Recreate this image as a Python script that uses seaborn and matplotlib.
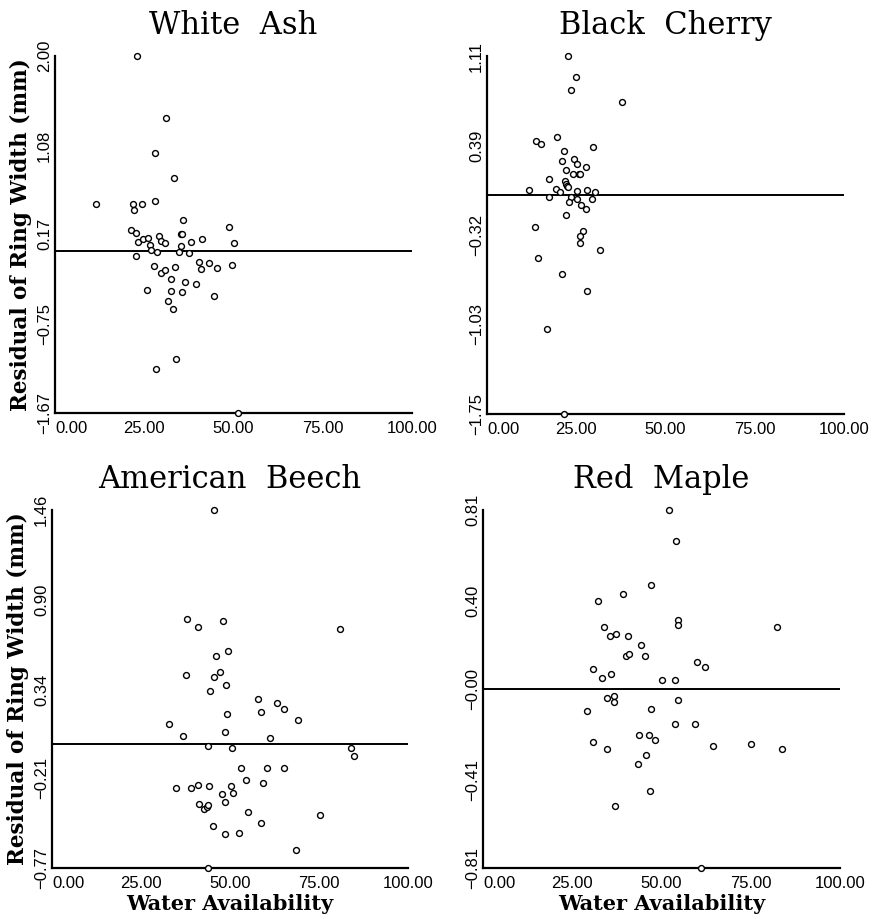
import numpy as np
import pandas as pd
import matplotlib
matplotlib.use("Agg")
import matplotlib.pyplot as plt
import seaborn as sns

# species panels (original titles have wide word gaps)
titles = ['White  Ash', 'Black  Cherry', 'American  Beech', 'Red  Maple']

# White Ash
wa_x = [23.0, 31.0, 28.1, 33.3, 11.5, 21.9, 24.3, 28.0, 22.2, 35.8, 21.2, 22.8, 48.8, 29.1,
        35.3, 35.5, 23.2, 24.6, 26.0, 29.7, 30.7, 38.1, 41.1, 50.1, 26.6, 35.4, 26.9, 28.5,
        34.7, 37.6, 22.8, 27.8, 33.7, 40.3, 40.9, 43.2, 45.3, 49.6, 29.8, 30.7, 32.6, 36.5,
        39.4, 25.7, 32.4, 35.7, 44.4, 31.7, 33.0, 33.9, 28.3, 51.2]
wa_y = [2.00, 1.36, 1.00, 0.75, 0.48, 0.48, 0.48, 0.51, 0.42, 0.31, 0.21, 0.18, 0.24, 0.15,
        0.17, 0.17, 0.09, 0.12, 0.13, 0.10, 0.08, 0.09, 0.12, 0.08, 0.06, 0.05, 0.01, -0.02,
        -0.02, -0.03, -0.06, -0.16, -0.17, -0.12, -0.19, -0.13, -0.18, -0.15, -0.23, -0.20, -0.29, -0.32,
        -0.34, -0.41, -0.42, -0.43, -0.47, -0.52, -0.60, -1.11, -1.22, -1.67]

# Black Cherry
bc_x = [22.8, 25.0, 23.4, 37.9, 19.7, 13.7, 15.0, 29.7, 21.6, 24.5, 20.9, 25.1, 27.7, 22.2,
        24.1, 25.8, 26.0, 17.3, 21.8, 22.0, 22.4, 22.7, 19.4, 11.9, 20.5, 25.3, 28.1, 30.3,
        17.4, 23.6, 25.3, 29.5, 23.0, 26.2, 27.6, 22.2, 13.4, 27.0, 26.1, 26.1, 31.7, 14.4,
        20.9, 28.0, 16.7, 21.7]
bc_y = [1.11, 0.94, 0.84, 0.74, 0.46, 0.43, 0.41, 0.38, 0.35, 0.29, 0.27, 0.25, 0.22, 0.20,
        0.17, 0.17, 0.17, 0.13, 0.11, 0.09, 0.07, 0.06, 0.05, 0.04, 0.02, 0.03, 0.04, 0.02,
        -0.02, -0.02, -0.03, -0.03, -0.06, -0.08, -0.11, -0.16, -0.26, -0.29, -0.33, -0.38, -0.44, -0.50,
        -0.63, -0.77, -1.07, -1.75]

# American Beech
ab_x = [45.5, 38.0, 47.9, 41.0, 81.0, 49.4, 46.1, 47.1, 37.7, 45.6, 49.0, 44.3, 57.8, 63.1,
        65.2, 58.7, 49.2, 69.1, 33.0, 48.6, 36.9, 61.3, 43.9, 50.6, 83.9, 84.9, 53.0, 60.4,
        65.2, 54.6, 59.4, 41.0, 34.7, 39.0, 44.0, 50.3, 50.9, 47.7, 48.6, 41.3, 42.8, 43.4,
        43.9, 55.0, 75.3, 58.8, 45.1, 52.5, 48.6, 68.4, 43.7]
ab_y = [1.46, 0.78, 0.77, 0.73, 0.72, 0.58, 0.55, 0.45, 0.43, 0.42, 0.37, 0.33, 0.28, 0.26,
        0.22, 0.20, 0.19, 0.15, 0.13, 0.08, 0.05, 0.04, -0.01, -0.02, -0.02, -0.07, -0.15, -0.15,
        -0.15, -0.22, -0.24, -0.25, -0.27, -0.27, -0.26, -0.26, -0.30, -0.31, -0.36, -0.37, -0.40, -0.39,
        -0.38, -0.42, -0.44, -0.49, -0.51, -0.55, -0.56, -0.66, -0.77]

# Red Maple
rm_x = [52.0, 54.2, 47.0, 39.2, 32.2, 54.7, 54.7, 82.3, 34.0, 37.3, 35.7, 40.5, 44.3, 40.0,
        40.9, 45.5, 59.9, 62.2, 30.9, 35.9, 33.2, 50.1, 53.8, 34.7, 36.7, 36.7, 54.6, 29.0,
        47.0, 53.8, 59.5, 43.8, 46.6, 48.2, 30.8, 34.7, 64.4, 75.2, 83.8, 45.7, 43.4, 46.9,
        37.1, 61.2]
rm_y = [0.81, 0.67, 0.47, 0.43, 0.40, 0.31, 0.29, 0.28, 0.28, 0.25, 0.24, 0.24, 0.20, 0.15,
        0.16, 0.15, 0.12, 0.10, 0.09, 0.07, 0.05, 0.04, 0.04, -0.04, -0.03, -0.06, -0.05, -0.10,
        -0.09, -0.16, -0.16, -0.21, -0.21, -0.23, -0.24, -0.27, -0.26, -0.25, -0.27, -0.30, -0.34, -0.46,
        -0.53, -0.81]

# y tick labels as printed
wa_yticks = ['-1.67', '-0.75', '0.17', '1.08', '2.00']
bc_yticks = ['-1.75', '-1.03', '-0.32', '0.39', '1.11']
ab_yticks = ['-0.77', '-0.21', '0.34', '0.90', '1.46']
rm_yticks = ['-0.81', '-0.41', '-0.00', '0.40', '0.81']
xticks = ['0.00', '25.00', '50.00', '75.00', '100.00']

panels = [
    (wa_x, wa_y, wa_yticks, [55, 413, 357, 357]),
    (bc_x, bc_y, bc_yticks, [487, 414, 357, 358]),
    (ab_x, ab_y, ab_yticks, [52, 868, 356, 358]),
    (rm_x, rm_y, rm_yticks, [483, 868, 357, 358]),
]

sns.set_style("white")
plt.rcParams['font.family'] = ['Liberation Sans', 'DejaVu Sans']
plt.rcParams['text.color'] = 'black'
plt.rcParams['axes.labelcolor'] = 'black'
plt.rcParams['xtick.color'] = 'black'
plt.rcParams['ytick.color'] = 'black'

W, H = 872, 919
fig = plt.figure(figsize=(W / 100, H / 100), dpi=100)

for i, (xs, ys, ylabs, box) in enumerate(panels):
    l, b, w, h = box
    ax = fig.add_axes([l / W, (H - b) / H, w / W, h / H])
    df = pd.DataFrame({'x': xs, 'y': ys})
    sns.scatterplot(data=df, x='x', y='y', ax=ax, marker='o', s=18,
                    color='white', edgecolor='black', linewidth=1.0,
                    clip_on=False, zorder=3, legend=False)
    ax.axhline(0, color='black', lw=1.4, zorder=2)

    yvals = [float(t) for t in ylabs]
    ax.set_xlim(0, 100)
    ax.set_ylim(yvals[0], yvals[-1])
    ax.set_xticks([0, 25, 50, 75, 100])
    ax.set_xticklabels(xticks, fontsize=12)
    ax.set_yticks(yvals)
    ax.set_yticklabels([t.replace('-', '\u2212') for t in ylabs], fontsize=12,
                       rotation=90, va='center')
    ax.get_xticklabels()[0].set_ha('left')

    ax.tick_params(axis='both', direction='in', length=4, width=1.0, color='black')
    ax.tick_params(axis='x', pad=6)
    ax.tick_params(axis='y', pad=2)

    for side in ['top', 'right']:
        ax.spines[side].set_visible(False)
    for side in ['left', 'bottom']:
        ax.spines[side].set_linewidth(1.6)
        ax.spines[side].set_color('black')

    ax.set_title(titles[i], fontsize=22, family='DejaVu Serif', pad=16,
                 color='black')
    if i % 2 == 0:
        ax.set_ylabel('Residual of Ring Width (mm)', fontsize=15.5,
                      family='DejaVu Serif', fontweight='bold', labelpad=4)
    else:
        ax.set_ylabel('')
    if i >= 2:
        ax.set_xlabel('Water Availability', fontsize=15,
                      family='DejaVu Serif', fontweight='bold', labelpad=2)
    else:
        ax.set_xlabel('')

fig.savefig('out.png', dpi=100, facecolor='white')
